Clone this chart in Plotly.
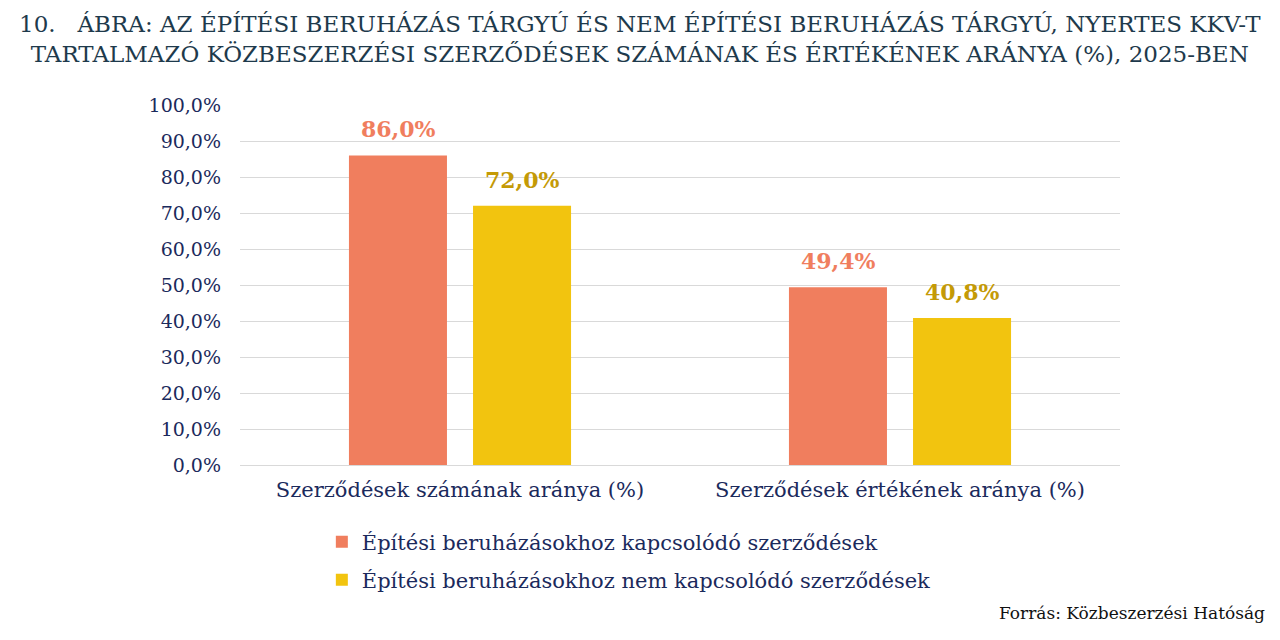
import plotly.graph_objects as go

categories = ["Szerződések számának aránya (%)", "Szerződések értékének aránya (%)"]
series_names = ["Építési beruházásokhoz kapcsolódó szerződések",
                "Építési beruházásokhoz nem kapcsolódó szerződések"]
epitesi = [86.0, 49.4]
nem_epitesi = [72.0, 40.8]
y_ticks = [0, 10, 20, 30, 40, 50, 60, 70, 80, 90, 100]
y_tick_labels = [f"{v:.1f}%".replace(".", ",") for v in y_ticks]

FONT = "DejaVu Serif"
NAVY = "#1b2a5c"
colors = ["#f07e5e", "#f2c40f"]
label_colors = ["#f07e5e", "#c49a06"]
legends = ["legend", "legend2"]
label_xshift = [-62, 62]

fig = go.Figure()
for name, vals, c, lg in zip(series_names, [epitesi, nem_epitesi], colors, legends):
    fig.add_trace(go.Bar(
        x=categories, y=vals, name=name, legend=lg,
        marker=dict(color=c, line=dict(width=0)),
    ))

for vals, lc, xs in zip([epitesi, nem_epitesi], label_colors, label_xshift):
    for cat, v in zip(categories, vals):
        fig.add_annotation(
            x=cat, y=v, xref="x", yref="y", xshift=xs, yshift=11,
            yanchor="bottom", showarrow=False,
            text=f"<b>{v:.1f}%</b>".replace(".", ","),
            font=dict(family=FONT, size=22, color=lc),
        )

leg_common = dict(orientation="v", x=0.093, xanchor="left", yanchor="middle",
                  font=dict(family=FONT, size=21, color=NAVY),
                  bgcolor="rgba(0,0,0,0)", itemsizing="constant")

fig.update_layout(
    width=1280, height=640,
    paper_bgcolor="white", plot_bgcolor="white",
    margin=dict(l=232, r=168, t=97, b=183, autoexpand=False),
    barmode="group", bargap=0.436, bargroupgap=0.21,
    font=dict(family=FONT, color=NAVY, size=19),
    showlegend=True,
    legend=dict(leg_common, y=(464 - 541) / 360),
    legend2=dict(leg_common, y=(464 - 579) / 360),
)
fig.update_yaxes(range=[0, 100], tickvals=y_ticks, ticktext=y_tick_labels,
                 showgrid=True, gridcolor="#d9d9d9", gridwidth=1.3,
                 zeroline=False, showline=False, ticks="", ticklen=0,
                 automargin=False, ticklabelstandoff=18,
                 tickfont=dict(family=FONT, size=19, color=NAVY))
fig.update_xaxes(showline=True, linecolor="#d9d9d9", linewidth=1.3, ticks="",
                 automargin=False, ticklabelstandoff=6,
                 tickfont=dict(family=FONT, size=21, color=NAVY))

fig.add_annotation(
    text="10.   ÁBRA: AZ ÉPÍTÉSI BERUHÁZÁS TÁRGYÚ ÉS NEM ÉPÍTÉSI BERUHÁZÁS TÁRGYÚ, NYERTES KKV-T<br>"
         "TARTALMAZÓ KÖZBESZERZÉSI SZERZŐDÉSEK SZÁMÁNAK ÉS ÉRTÉKÉNEK ARÁNYA (%), 2025-BEN",
    xref="paper", yref="paper", x=0.5, xanchor="center", xshift=-40,
    y=1, yanchor="bottom", yshift=36,
    showarrow=False, align="center",
    font=dict(family=FONT, size=23, color="#1e3a4c"),
)
fig.add_annotation(
    text="Forrás: Közbeszerzési Hatóság",
    xref="paper", yref="paper", x=1, xanchor="right", xshift=147,
    y=0, yanchor="top", yshift=-136,
    showarrow=False, font=dict(family=FONT, size=17, color="#111111"),
)

fig.write_html("out.html")
